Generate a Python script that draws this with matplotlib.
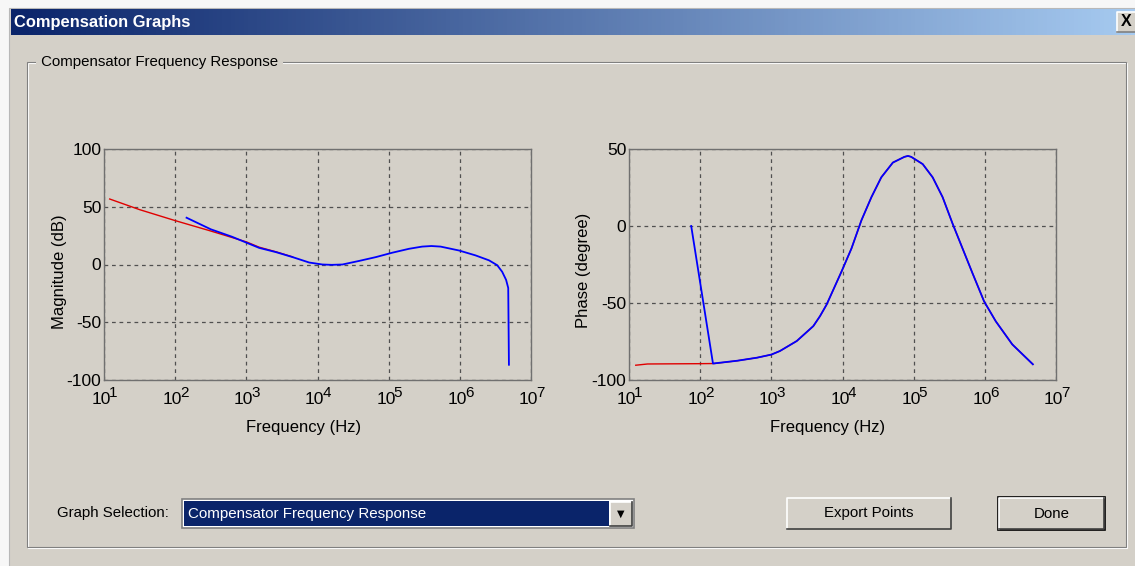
import numpy as np
import matplotlib
matplotlib.use("Agg")
import matplotlib.pyplot as plt
from matplotlib.patches import Rectangle
from matplotlib.colors import LinearSegmentedColormap
from matplotlib.transforms import offset_copy

plt.rcParams['font.family'] = ['Liberation Sans', 'DejaVu Sans']
plt.rcParams['axes.unicode_minus'] = False

# magnitude (dB) vs log10(freq)
mag_red_logf = [1.08, 1.5, 2.0, 2.5, 3.0, 3.18, 3.417, 3.65]
mag_red_db = [56.7, 47.5, 38, 29, 19.6, 15, 11, 6.6]
mag_blue_logf = [2.16, 2.5, 2.8, 3.18, 3.417, 3.65, 3.884, 4.07, 4.2, 4.35, 4.585,
                 4.82, 5.05, 5.286, 5.47, 5.6, 5.73, 5.99, 6.22, 6.41, 6.525, 6.595,
                 6.65, 6.68, 6.69]
mag_blue_db = [40.5, 30.5, 24, 14.4, 10.7, 6.4, 1.7, 0, -0.3, 0, 3.1,
               6.4, 10.2, 13.6, 15.5, 16, 15.5, 12.1, 7.9, 3.6, -0.6, -6.3,
               -13.3, -20.3, -86.8]

# phase (degree) vs log10(freq)
ph_red_logf = [1.095, 1.26, 1.6, 2.0, 2.2, 2.52, 2.8, 3.0, 3.12, 3.357, 3.59, 3.683, 3.776,
               3.986, 4.126, 4.266, 4.406, 4.545, 4.708, 4.87, 4.92, 4.965, 5.127,
               5.267, 5.407, 5.547, 5.687, 5.827, 5.99, 6.154, 6.386, 6.675]
ph_red_deg = [-90.4, -89.6, -89.5, -89.4, -89.3, -87.5, -85.5, -83.5, -81.2, -74.7, -65, -58.6, -51.1,
              -29.6, -14.6, 3.7, 18.7, 31.6, 41.2, 44.9, 45.5, 44.9, 40.2,
              31.6, 18.7, 1.5, -14.6, -30.7, -49, -61.9, -76.9, -89.8]
ph_blue_logf = [1.874, 2.18, 2.52, 2.8, 3.0, 3.12, 3.357, 3.59, 3.683, 3.776,
                3.986, 4.126, 4.266, 4.406, 4.545, 4.708, 4.87, 4.92, 4.965, 5.127,
                5.267, 5.407, 5.547, 5.687, 5.827, 5.99, 6.154, 6.386, 6.675]
ph_blue_deg = [0, -89.3, -87.5, -85.5, -83.5, -81.2, -74.7, -65, -58.6, -51.1,
               -29.6, -14.6, 3.7, 18.7, 31.6, 41.2, 44.9, 45.5, 44.9, 40.2,
               31.6, 18.7, 1.5, -14.6, -30.7, -49, -61.9, -76.9, -89.8]

x_exponents = [1, 2, 3, 4, 5, 6, 7]

W, H = 1135, 566
PANEL = '#D4D0C8'
NAVY = '#0A246A'

fig = plt.figure(figsize=(W / 100, H / 100), dpi=100)
fig.patch.set_facecolor('#F7F7F7')

bg = fig.add_axes([0, 0, 1, 1])
bg.axis('off')


def rect(x0, y0, x1, y1, **kw):
    bg.add_patch(Rectangle((x0, y0), x1 - x0, y1 - y0, **kw))


def raised(x0, y0, x1, y1, dark='#808080', outer=None):
    rect(x0, y0, x1, y1, facecolor=PANEL, edgecolor='none')
    bg.plot([x0, x0, x1], [y1, y0, y0], color='white', lw=1.2)
    bg.plot([x0, x1, x1], [y1, y1, y0], color=dark, lw=1.2)
    if outer:
        rect(x0 - 1, y0 - 1, x1 + 1, y1 + 1, facecolor='none', edgecolor=outer, lw=1.2)


# window body
rect(9, 8, W + 5, H + 5, facecolor=PANEL, edgecolor='#B8B8B8', lw=0.8)

# title bar gradient
grad = np.linspace(0, 1, 256).reshape(1, -1)
cmap = LinearSegmentedColormap.from_list('tb', [NAVY, '#A6CAF0'])
bg.imshow(grad, cmap=cmap, aspect='auto', extent=[11, W, 35, 9], zorder=1)
bg.text(14, 22.5, 'Compensation Graphs', color='white', fontsize=11.9,
        fontweight='bold', va='center', ha='left', zorder=2)
raised(1117, 12, W + 2, 32)
bg.text(1126.5, 22, 'X', fontsize=11.5, fontweight='bold', ha='center', va='center', zorder=3)

# group box
rect(28, 63, 1127, 548, facecolor='none', edgecolor='white', lw=0.8)
rect(27, 62, 1126, 547, facecolor='none', edgecolor='#808080', lw=0.8)
bg.text(37, 62, ' Compensator Frequency Response ', fontsize=10.8, va='center', ha='left',
        color='black', bbox=dict(facecolor=PANEL, edgecolor='none', pad=0.5))

# graph selection combo
bg.text(57, 513, 'Graph Selection:', fontsize=10.8, va='center', ha='left')
rect(182, 499, 634, 528, facecolor='white', edgecolor='#808080', lw=1.2)
rect(184, 501, 609, 526, facecolor=NAVY, edgecolor='none')
bg.text(188, 514, 'Compensator Frequency Response', fontsize=10.9, color='white',
        va='center', ha='left')
raised(610, 502, 632, 526, dark='#404040')
bg.text(621, 514, '\u25BC', fontsize=7, ha='center', va='center', family='DejaVu Sans')

# buttons
raised(787, 498, 951, 529, dark='#404040')
bg.text(869, 513.5, 'Export Points', fontsize=10.8, ha='center', va='center')
raised(999, 498, 1104, 529, dark='#404040', outer='black')
bg.text(1051.5, 513.5, 'Done', fontsize=10.8, ha='center', va='center')

bg.set_xlim(0, W)
bg.set_ylim(H, 0)


def make_axes(x0, x1, y0, y1):
    ax = fig.add_axes([x0 / W, 1 - y1 / H, (x1 - x0) / W, (y1 - y0) / H])
    ax.set_facecolor(PANEL)
    ax.set_xscale('log')
    ax.set_xlim(10, 1e7)
    ticks = [10.0 ** k for k in x_exponents]
    ax.set_xticks(ticks)
    ax.set_xticklabels([])
    ax.minorticks_off()
    ax.tick_params(length=0, labelsize=12.5)
    ax.tick_params(axis='y', pad=2)
    ax.grid(True, color='#505050', linestyle=(0, (3, 3)), linewidth=0.9)
    for s in ax.spines.values():
        s.set_color('#707070')
        s.set_linewidth(1.0)
    # "10" with a raised exponent under each decade
    base_tr = offset_copy(ax.get_xaxis_transform(), fig=fig, x=7, y=-12, units='dots')
    exp_tr = offset_copy(ax.get_xaxis_transform(), fig=fig, x=5, y=-6, units='dots')
    for t, k in zip(ticks, x_exponents):
        ax.text(t, 0, '10', transform=base_tr, ha='right', va='top', fontsize=12.5,
                clip_on=False)
        ax.text(t, 0, str(k), transform=exp_tr, ha='left', va='top', fontsize=11,
                clip_on=False)
    return ax


ax1 = make_axes(104, 531, 149, 380)
ax1.plot(10 ** np.array(mag_red_logf), mag_red_db, color='#E00000', lw=1.0)
ax1.plot(10 ** np.array(mag_blue_logf), mag_blue_db, color='#0000FF', lw=1.3)
ax1.set_ylim(-100, 100)
ax1.set_yticks([-100, -50, 0, 50, 100])
ax1.set_xlabel('Frequency (Hz)', fontsize=12)
ax1.xaxis.set_label_coords(0.467, -0.175)
ax1.set_ylabel('Magnitude (dB)', fontsize=12)
ax1.yaxis.set_label_coords(-0.087, 0.47)

ax2 = make_axes(629, 1056, 149, 380)
ax2.plot(10 ** np.array(ph_red_logf), ph_red_deg, color='#E00000', lw=1.0)
ax2.plot(10 ** np.array(ph_blue_logf), ph_blue_deg, color='#0000FF', lw=1.3)
ax2.set_ylim(-100, 50)
ax2.set_yticks([-100, -50, 0, 50])
ax2.set_xlabel('Frequency (Hz)', fontsize=12)
ax2.xaxis.set_label_coords(0.465, -0.175)
ax2.set_ylabel('Phase (degree)', fontsize=12)
ax2.yaxis.set_label_coords(-0.088, 0.476)

fig.savefig('out.png', dpi=100, facecolor=fig.get_facecolor())
